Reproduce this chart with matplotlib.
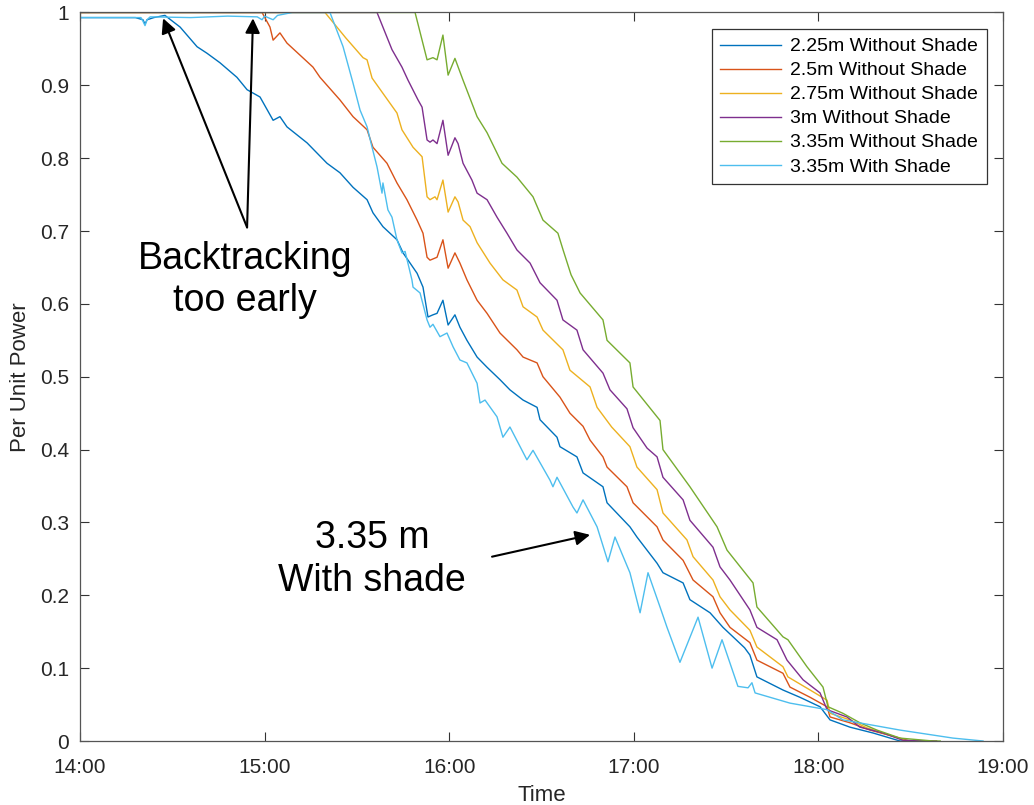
import matplotlib
matplotlib.use("Agg")
import matplotlib.pyplot as plt

plt.rcParams['font.family'] = ['Liberation Sans', 'DejaVu Sans']

# time in hours (14.0 = 14:00), per unit power
t_225 = [14.000, 14.300, 14.341, 14.352, 14.363, 14.400, 14.460, 14.542, 14.634, 14.688,
         14.758, 14.850, 14.905, 14.975, 15.046, 15.083, 15.121, 15.230, 15.338, 15.408,
         15.479, 15.555, 15.587, 15.641, 15.717, 15.750, 15.826, 15.858, 15.885, 15.912,
         15.934, 15.966, 15.994, 16.031, 16.058, 16.096, 16.151, 16.205, 16.275, 16.329,
         16.400, 16.476, 16.492, 16.584, 16.600, 16.692, 16.725, 16.833, 16.855, 16.979,
         17.017, 17.126, 17.158, 17.267, 17.304, 17.413, 17.483, 17.550, 17.600, 17.629,
         17.667, 17.808, 17.900, 18.009, 18.063, 18.171, 18.296, 18.442, 18.600]
p_225 = [0.993, 0.993, 0.990, 0.984, 0.990, 0.993, 0.996, 0.980, 0.953, 0.944,
         0.931, 0.911, 0.894, 0.884, 0.852, 0.857, 0.843, 0.821, 0.793, 0.780,
         0.760, 0.743, 0.725, 0.706, 0.688, 0.670, 0.642, 0.623, 0.582, 0.585,
         0.587, 0.605, 0.571, 0.585, 0.568, 0.550, 0.527, 0.513, 0.496, 0.482,
         0.468, 0.458, 0.441, 0.417, 0.404, 0.390, 0.368, 0.349, 0.327, 0.294,
         0.280, 0.244, 0.231, 0.217, 0.194, 0.176, 0.156, 0.140, 0.128, 0.118,
         0.088, 0.070, 0.060, 0.047, 0.029, 0.019, 0.011, 0.000, 0.000]

t_25 = [14.000, 14.986, 15.029, 15.046, 15.083, 15.121, 15.262, 15.300, 15.408, 15.479,
        15.555, 15.587, 15.663, 15.717, 15.771, 15.826, 15.858, 15.880, 15.896, 15.934,
        15.966, 15.994, 16.031, 16.058, 16.096, 16.151, 16.205, 16.275, 16.367, 16.400,
        16.476, 16.508, 16.600, 16.654, 16.725, 16.763, 16.833, 16.855, 16.963, 16.996,
        17.126, 17.158, 17.267, 17.321, 17.429, 17.467, 17.521, 17.629, 17.667, 17.808,
        17.846, 17.955, 18.047, 18.063, 18.171, 18.280, 18.426, 18.496, 18.620]
p_25 = [1.000, 1.000, 0.980, 0.962, 0.972, 0.958, 0.925, 0.911, 0.880, 0.857,
        0.839, 0.815, 0.793, 0.766, 0.743, 0.715, 0.697, 0.664, 0.660, 0.664,
        0.688, 0.649, 0.670, 0.656, 0.633, 0.605, 0.587, 0.560, 0.537, 0.527,
        0.519, 0.500, 0.472, 0.450, 0.432, 0.413, 0.390, 0.376, 0.349, 0.327,
        0.294, 0.276, 0.248, 0.221, 0.198, 0.176, 0.156, 0.135, 0.111, 0.093,
        0.074, 0.060, 0.047, 0.033, 0.025, 0.015, 0.005, 0.000, 0.000]

t_275 = [14.000, 15.327, 15.440, 15.533, 15.555, 15.582, 15.641, 15.717, 15.744, 15.804,
         15.853, 15.880, 15.896, 15.923, 15.934, 15.966, 15.994, 16.031, 16.048, 16.075,
         16.113, 16.151, 16.221, 16.291, 16.367, 16.400, 16.476, 16.508, 16.616, 16.654,
         16.763, 16.801, 16.880, 16.979, 17.017, 17.126, 17.158, 17.288, 17.321, 17.429,
         17.467, 17.521, 17.629, 17.667, 17.808, 17.835, 17.955, 18.047, 18.063, 18.171,
         18.263, 18.388, 18.480, 18.640]
p_275 = [1.000, 1.000, 0.965, 0.938, 0.935, 0.910, 0.889, 0.862, 0.839, 0.815,
         0.802, 0.747, 0.743, 0.747, 0.743, 0.770, 0.726, 0.747, 0.740, 0.715,
         0.706, 0.684, 0.656, 0.633, 0.619, 0.596, 0.582, 0.564, 0.537, 0.509,
         0.486, 0.458, 0.431, 0.404, 0.376, 0.345, 0.313, 0.276, 0.253, 0.221,
         0.198, 0.180, 0.152, 0.129, 0.102, 0.088, 0.070, 0.056, 0.038, 0.029,
         0.018, 0.008, 0.000, 0.000]

t_3 = [14.000, 15.609, 15.690, 15.744, 15.777, 15.831, 15.853, 15.880, 15.896, 15.912,
       15.934, 15.966, 15.994, 16.031, 16.048, 16.075, 16.123, 16.151, 16.205, 16.259,
       16.313, 16.367, 16.438, 16.492, 16.584, 16.616, 16.692, 16.725, 16.833, 16.871,
       16.963, 16.996, 17.072, 17.126, 17.158, 17.267, 17.304, 17.429, 17.467, 17.521,
       17.629, 17.667, 17.776, 17.830, 17.917, 18.009, 18.047, 18.155, 18.225, 18.350,
       18.458, 18.640]
p_3 = [1.000, 1.000, 0.949, 0.925, 0.907, 0.880, 0.870, 0.825, 0.822, 0.825,
       0.820, 0.852, 0.804, 0.828, 0.820, 0.793, 0.770, 0.752, 0.743, 0.719,
       0.697, 0.674, 0.656, 0.629, 0.605, 0.578, 0.564, 0.537, 0.505, 0.482,
       0.456, 0.430, 0.402, 0.390, 0.362, 0.331, 0.303, 0.266, 0.239, 0.221,
       0.180, 0.156, 0.139, 0.111, 0.084, 0.066, 0.043, 0.033, 0.019, 0.011,
       0.001, 0.000]

t_335 = [14.000, 15.815, 15.880, 15.912, 15.934, 15.966, 15.994, 16.031, 16.075, 16.151,
         16.205, 16.286, 16.367, 16.454, 16.508, 16.589, 16.617, 16.660, 16.709, 16.833,
         16.855, 16.979, 16.996, 17.126, 17.142, 17.158, 17.304, 17.451, 17.505, 17.646,
         17.667, 17.808, 17.835, 17.938, 18.025, 18.052, 18.133, 18.225, 18.317, 18.442,
         18.621, 18.660]
p_335 = [1.000, 1.000, 0.935, 0.938, 0.935, 0.969, 0.914, 0.937, 0.907, 0.857,
         0.835, 0.793, 0.774, 0.747, 0.715, 0.697, 0.674, 0.640, 0.615, 0.578,
         0.550, 0.519, 0.486, 0.445, 0.440, 0.400, 0.349, 0.294, 0.262, 0.217,
         0.184, 0.143, 0.139, 0.102, 0.074, 0.047, 0.038, 0.025, 0.015, 0.004,
         0.000, 0.000]

t_shade = [14.000, 14.330, 14.341, 14.352, 14.363, 14.380, 14.600, 14.800, 14.960, 14.986,
           15.000, 15.046, 15.070, 15.150, 15.354, 15.425, 15.479, 15.517, 15.555, 15.582,
           15.609, 15.636, 15.641, 15.668, 15.690, 15.717, 15.744, 15.761, 15.798, 15.804,
           15.842, 15.880, 15.896, 15.912, 15.950, 15.988, 16.021, 16.058, 16.096, 16.151,
           16.167, 16.194, 16.259, 16.291, 16.329, 16.421, 16.454, 16.546, 16.562, 16.584,
           16.671, 16.692, 16.725, 16.801, 16.860, 16.898, 16.979, 17.034, 17.077, 17.142,
           17.180, 17.250, 17.348, 17.424, 17.478, 17.564, 17.619, 17.640, 17.657, 17.846,
           18.047, 18.133, 18.442, 18.729, 18.892]
p_shade = [0.993, 0.993, 0.988, 0.982, 0.990, 0.994, 0.993, 0.995, 0.994, 0.990,
           0.995, 0.990, 0.996, 1.000, 1.000, 0.953, 0.903, 0.866, 0.843, 0.815,
           0.788, 0.752, 0.766, 0.729, 0.719, 0.688, 0.670, 0.672, 0.633, 0.623,
           0.615, 0.578, 0.568, 0.572, 0.555, 0.560, 0.541, 0.523, 0.519, 0.491,
           0.464, 0.468, 0.445, 0.417, 0.431, 0.386, 0.399, 0.358, 0.349, 0.362,
           0.321, 0.313, 0.331, 0.294, 0.246, 0.280, 0.231, 0.176, 0.231, 0.184,
           0.156, 0.108, 0.170, 0.100, 0.139, 0.075, 0.073, 0.080, 0.066, 0.052,
           0.043, 0.029, 0.015, 0.004, 0.000]

labels = ['2.25m Without Shade', '2.5m Without Shade', '2.75m Without Shade',
          '3m Without Shade', '3.35m Without Shade', '3.35m With Shade']
colors = ['#0072BD', '#D95319', '#EDB120', '#7E2F8E', '#77AC30', '#4DBEEE']

x_ticks = [14, 15, 16, 17, 18, 19]
x_tick_labels = ['14:00', '15:00', '16:00', '17:00', '18:00', '19:00']
y_ticks = [0, 0.1, 0.2, 0.3, 0.4, 0.5, 0.6, 0.7, 0.8, 0.9, 1]
y_tick_labels = ['0', '0.1', '0.2', '0.3', '0.4', '0.5', '0.6', '0.7', '0.8', '0.9', '1']

fig = plt.figure(figsize=(10.34, 8.05), dpi=100)
ax = fig.add_axes([0.0774, 0.0795, 0.8926, 0.905])

series = [(t_225, p_225), (t_25, p_25), (t_275, p_275), (t_3, p_3), (t_335, p_335), (t_shade, p_shade)]
for (t, p), lab, c in zip(series, labels, colors):
    ax.plot(t, p, color=c, lw=1.0, label=lab)

ax.set_xlim(14, 19)
ax.set_ylim(0, 1)
ax.set_xticks(x_ticks)
ax.set_xticklabels(x_tick_labels)
ax.set_yticks(y_ticks)
ax.set_yticklabels(y_tick_labels)
ax.tick_params(direction='in', top=True, right=True, length=6.5, width=0.8,
               color='#333333', labelsize=15, labelcolor='#262626')
ax.tick_params(axis='x', pad=12)
ax.tick_params(axis='y', pad=8)
for s in ax.spines.values():
    s.set_color('#555555')
    s.set_linewidth(0.9)

ax.set_xlabel('Time', fontsize=16, color='#262626', labelpad=6)
ax.set_ylabel('Per Unit Power', fontsize=16, color='#262626', labelpad=6)

leg = ax.legend(loc='upper right', bbox_to_anchor=(0.9827, 0.9773), borderaxespad=0,
                fontsize=14, fancybox=False, edgecolor='#333333', framealpha=1,
                handlelength=3.1, handletextpad=0.5, labelspacing=0.33, borderpad=0.45)
leg.get_frame().set_linewidth(0.9)

# annotations
arr = dict(arrowstyle='-|>', color='black', lw=1.5, mutation_scale=22, shrinkA=0, shrinkB=0)
ax.annotate('', xy=(14.45, 0.992), xytext=(14.905, 0.705), arrowprops=arr)
ax.annotate('', xy=(14.937, 0.992), xytext=(14.905, 0.705), arrowprops=arr)
ax.text(14.894, 0.633, 'Backtracking\ntoo early', fontsize=27, ha='center', va='center',
        linespacing=1.2)
ax.text(15.582, 0.249, '3.35 m\nWith shade', fontsize=27, ha='center', va='center',
        linespacing=1.25)
ax.annotate('', xy=(16.763, 0.283), xytext=(16.232, 0.253), arrowprops=arr)

fig.savefig('out.png', dpi=100)
